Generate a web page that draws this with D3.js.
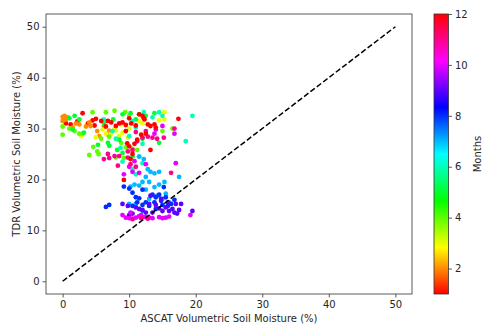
<!DOCTYPE html>
<html>
<head>
<meta charset="utf-8">
<script src="https://cdn.jsdelivr.net/npm/d3@7"></script>
<style>
  body { margin: 0; background: #fff; }
  text { font-family: "DejaVu Sans", sans-serif; fill: #262626; }
</style>
</head>
<body>
<div id="chart"></div>
<script>
// [ASCAT, TDR] pairs for each month of the year
const jan = [[0.5,31.0],[1.2,30.8],[3.0,33.0],[4.5,31.6],[5.0,31.9],[2.2,31.4],[3.8,31.0],[4.8,30.6]];
const feb = [[0.0,32.3],[0.3,32.5],[0.5,31.8],[0.0,31.5],[1.5,30.2],[2.0,31.0],[2.5,30.8],[3.5,30.4],
  [4.0,31.2],[5.2,29.5],[5.5,28.5],[6.2,30.4],[7.0,29.6],[0.8,32.2],[4.2,30.5],[6.8,28.8]];
const mar = [[2.8,28.5],[5.0,28.3],[6.5,29.0],[7.2,28.8],[8.0,29.6],[8.5,28.5],[9.0,29.2],[10.0,30.0],
  [11.5,31.5],[12.0,31.0],[15.3,33.2],[15.3,31.8],[14.5,31.6],[8.8,30.8],[9.8,28.2],[6.0,29.8],[7.8,30.0]];
const apr = [[0.0,28.8],[0.0,30.4],[1.0,30.0],[1.8,29.5],[2.5,29.0],[3.0,29.0],[4.5,33.2],[4.0,24.8],
  [4.6,26.4],[5.2,25.5],[5.4,25.0],[6.5,33.2],[7.8,33.5],[9.4,33.2],[10.0,32.5],[5.8,28.0],[7.0,28.4],
  [8.8,27.2],[9.5,26.3],[10.5,26.0],[11.2,25.8],[16.5,30.0],[15.0,29.5],[9.2,24.2],[8.0,24.3]];
const may = [[1.0,32.0],[1.8,32.5],[2.5,31.8],[1.5,29.8],[3.2,29.2],[5.3,26.8],[6.2,31.0],[7.6,31.8],
  [8.5,27.8],[9.0,32.8],[10.2,33.0],[11.0,31.8],[12.5,32.5],[13.8,33.0],[14.5,27.2],[8.2,25.8],
  [9.0,25.2],[10.5,24.5],[11.5,32.8],[12.0,28.0],[7.0,26.6],[6.8,27.2]];
const jun = [[6.2,31.8],[7.5,29.5],[8.0,28.0],[8.7,26.2],[9.5,29.5],[10.5,31.5],[11.0,30.2],[12.2,33.2],
  [13.5,32.2],[14.5,33.2],[15.0,32.5],[18.5,27.5],[19.5,32.5],[12.0,27.0],[11.5,24.5],[12.0,23.2],
  [9.0,23.5],[10.5,22.0],[11.0,21.0],[10.0,28.5]];
const jul = [[11.5,24.5],[12.2,24.0],[12.8,22.0],[13.2,21.5],[13.8,21.2],[14.5,21.5],[12.5,20.5],
  [13.0,19.5],[13.8,18.5],[14.5,19.0],[15.3,19.5],[17.5,20.5],[10.2,18.6],[10.8,19.0],[11.5,18.8],
  [12.0,19.5],[12.5,18.0],[11.0,15.2],[13.0,16.2],[14.2,16.8],[15.5,17.2],[16.0,15.5],[12.0,13.8],
  [10.0,15.2],[15.0,16.2]];
const aug = [[6.5,14.6],[7.0,15.0],[9.2,18.6],[10.0,18.2],[10.5,17.4],[11.0,16.5],[11.5,16.3],[12.0,18.0],
  [12.5,15.5],[13.5,17.0],[14.0,16.5],[14.8,15.8],[15.2,18.5],[15.5,16.5],[16.3,15.2],[13.0,14.8],
  [14.0,14.2],[15.0,15.0],[16.8,16.0],[12.0,15.0],[10.5,14.8],[11.2,15.5],[13.8,15.5],[15.8,14.8],[14.5,17.0]];
const sep = [[9.0,15.2],[9.8,14.8],[10.5,13.3],[11.0,14.5],[12.0,14.0],[12.5,13.5],[13.0,15.2],[13.5,13.5],
  [14.0,15.0],[14.5,14.3],[15.0,13.8],[15.5,14.5],[16.0,13.8],[16.5,14.2],[17.0,15.2],[17.5,14.0],
  [17.8,15.2],[19.5,13.8],[16.8,13.5],[15.8,15.5],[14.8,16.2],[13.2,16.8],[11.5,14.2],[10.0,13.0],[17.2,13.3]];
const oct = [[9.0,13.0],[9.5,12.5],[10.0,12.4],[10.5,12.3],[11.0,12.5],[11.5,12.8],[12.0,12.6],[12.5,12.6],
  [13.0,12.5],[13.5,12.4],[14.5,12.6],[15.0,12.4],[15.5,12.5],[16.0,12.7],[19.2,13.0],[10.2,13.5],
  [11.8,13.0],[9.2,21.0],[10.5,21.5],[11.5,21.3],[12.5,23.0],[10.0,22.5],[16.8,29.0],[17.0,23.2],
  [14.0,29.8],[13.8,29.0],[15.0,30.5],[10.8,23.6]];
const nov = [[6.2,24.0],[7.0,24.2],[6.8,25.0],[7.8,24.6],[8.5,24.6],[8.3,22.7],[9.8,25.5],[10.5,25.8],
  [11.2,27.5],[12.0,28.2],[12.8,28.4],[13.5,28.2],[14.2,28.0],[12.5,29.5],[11.0,29.3],[9.8,24.3],
  [10.2,23.0],[11.0,22.5],[16.3,21.3],[16.8,30.0],[15.2,28.2],[10.5,12.2],[12.8,12.3],[11.8,12.4]];
const dec = [[8.5,31.0],[9.0,31.2],[9.5,30.7],[10.0,32.0],[10.3,31.0],[11.0,30.6],[11.5,32.8],[12.0,32.5],
  [12.3,31.8],[12.8,30.8],[13.2,30.5],[13.8,30.8],[14.0,30.2],[12.5,29.0],[11.8,28.8],[11.2,27.8],
  [10.8,27.0],[10.0,26.5],[10.5,25.0],[10.2,24.0],[9.7,27.1],[13.2,25.8],[9.2,19.9],[17.4,31.9],
  [12.2,32.0],[8.0,30.5],[7.3,31.2],[6.8,31.5],[6.5,30.4],[5.8,31.5],[9.5,29.5]];

const monthSets = [jan, feb, mar, apr, may, jun, jul, aug, sep, oct, nov, dec];
const axisTicks = [0, 10, 20, 30, 40, 50];
const monthTicks = [2, 4, 6, 8, 10, 12];
const oneToOne = [[0, 0], [50, 50]];

// flatten to rows
let points = [];
monthSets.forEach((set, i) => {
  set.forEach(p => points.push({ascat: p[0], tdr: p[1], month: i + 1}));
});

const W = 483, H = 327;
const margin = {top: 14, right: 71, bottom: 33, left: 46};
const width = W - margin.left - margin.right;
const height = H - margin.top - margin.bottom;

const svg = d3.select('#chart').append('svg')
  .attr('width', W).attr('height', H);

const x = d3.scaleLinear().domain([-2.5, 52.5]).range([0, width]);
const y = d3.scaleLinear().domain([-2.5, 52.5]).range([height, 0]);

// hsv colormap, like matplotlib
const hsv = t => d3.hsl(t * 360, 1, 0.5).formatHex();
const cScale = d3.scaleLinear().domain([1, 12]).range([0, 1]);
const colour = m => hsv(cScale(m));

const g = svg.append('g').attr('transform', `translate(${margin.left},${margin.top})`);

g.append('g').selectAll('circle')
  .data(points)
  .enter().append('circle')
  .attr('cx', d => x(d.ascat))
  .attr('cy', d => y(d.tdr))
  .attr('r', 2.4)
  .attr('fill', d => colour(d.month));

g.append('path')
  .datum(oneToOne)
  .attr('d', d3.line().x(d => x(d[0])).y(d => y(d[1])))
  .attr('fill', 'none')
  .attr('stroke', '#000')
  .attr('stroke-width', 1.5)
  .attr('stroke-dasharray', '5.5,2.5');

g.append('rect')
  .attr('width', width).attr('height', height)
  .attr('fill', 'none').attr('stroke', '#333').attr('stroke-width', 0.8);

const xAxis = g.append('g')
  .attr('transform', `translate(0,${height})`)
  .call(d3.axisBottom(x).tickValues(axisTicks).tickSize(3.5).tickPadding(3));
const yAxis = g.append('g')
  .call(d3.axisLeft(y).tickValues(axisTicks).tickSize(3.5).tickPadding(3));
[xAxis, yAxis].forEach(a => {
  a.select('.domain').remove();
  a.selectAll('line').attr('stroke', '#333').attr('stroke-width', 0.8);
  a.selectAll('text').style('font-size', '10px').attr('fill', '#262626');
});

svg.append('text')
  .attr('x', margin.left + width / 2).attr('y', 322)
  .attr('text-anchor', 'middle').style('font-size', '10px')
  .text('ASCAT Volumetric Soil Moisture (%)');
svg.append('text')
  .attr('transform', `translate(20,${margin.top + height / 2}) rotate(-90)`)
  .attr('text-anchor', 'middle').style('font-size', '10px')
  .text('TDR Volumetric Soil Moisture (%)');

// colorbar
const cb = {x: 434, w: 14.5};
const cy = d3.scaleLinear().domain([1, 12]).range([margin.top + height, margin.top]);

const grad = svg.append('defs').append('linearGradient')
  .attr('id', 'cbgrad').attr('x1', 0).attr('y1', 1).attr('x2', 0).attr('y2', 0);
d3.range(0, 1.0001, 1 / 24).forEach(t => {
  grad.append('stop').attr('offset', t).attr('stop-color', hsv(t));
});

svg.append('rect')
  .attr('x', cb.x).attr('y', margin.top)
  .attr('width', cb.w).attr('height', height)
  .attr('fill', 'url(#cbgrad)')
  .attr('stroke', '#333').attr('stroke-width', 0.8);

const cAxis = svg.append('g')
  .attr('transform', `translate(${cb.x + cb.w},0)`)
  .call(d3.axisRight(cy).tickValues(monthTicks).tickSize(3.5).tickPadding(3));
cAxis.select('.domain').remove();
cAxis.selectAll('line').attr('stroke', '#333').attr('stroke-width', 0.8);
cAxis.selectAll('text').style('font-size', '10px').attr('fill', '#262626');

svg.append('text')
  .attr('transform', `translate(481,${margin.top + height / 2}) rotate(-90)`)
  .attr('text-anchor', 'middle').style('font-size', '10px')
  .text('Months');
</script>
</body>
</html>
